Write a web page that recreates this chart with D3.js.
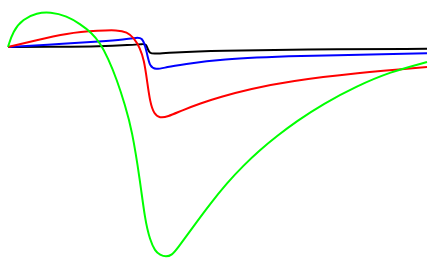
<!DOCTYPE html>
<html lang="en">
<head>
  <meta charset="UTF-8">
  <title>curves</title>
  <script src="https://d3js.org/d3.v7.min.js"></script>
  <style>
    html, body { margin: 0; padding: 0; background: #fff; }
  </style>
</head>
<body>
  <div class="canvas"></div>
  <script>
    // time values and responses per series
    const blackT = [0, 0.52, 0.92, 1.22, 1.35, 1.38, 1.40, 1.42, 1.45, 1.62, 2.12, 2.92, 4.19];
    const blackV = [0, 0.002, 0.005, 0.02, 0.03, 0.03, -0.03, -0.06, -0.07, -0.055, -0.035, -0.025, -0.018];

    const blueT = [0, 0.59, 0.92, 1.17, 1.29, 1.34, 1.37, 1.40, 1.42, 1.47, 1.59, 1.75, 2.12, 2.82, 4.19];
    const blueV = [0, 0.035, 0.055, 0.075, 0.095, 0.09, 0.02, -0.11, -0.19, -0.23, -0.20, -0.175, -0.12, -0.09, -0.063];

    const redT = [0, 0.25, 0.59, 0.92, 1.09, 1.19, 1.26, 1.32, 1.36, 1.39, 1.42, 1.46, 1.52, 1.59, 1.75, 1.92, 2.12, 2.42, 2.82, 3.49, 4.19];
    const redV = [0, 0.06, 0.14, 0.165, 0.17, 0.15, 0.09, -0.01, -0.13, -0.33, -0.55, -0.67, -0.71, -0.70, -0.63, -0.565, -0.50, -0.42, -0.34, -0.26, -0.20];

    const greenT = [0, 0.05, 0.15, 0.29, 0.42, 0.59, 0.72, 0.84, 0.92, 1.00, 1.09, 1.17, 1.24, 1.32, 1.37, 1.42, 1.47, 1.52, 1.58, 1.64, 1.69, 1.85, 2.02, 2.19, 2.35, 2.52, 2.69, 2.89, 3.15, 3.49, 3.82, 4.19];
    const greenV = [0, 0.16, 0.28, 0.34, 0.35, 0.31, 0.23, 0.14, 0.04, -0.11, -0.33, -0.58, -0.83, -1.33, -1.73, -1.93, -2.04, -2.08, -2.10, -2.08, -2.02, -1.80, -1.57, -1.36, -1.19, -1.03, -0.89, -0.74, -0.57, -0.39, -0.25, -0.15];

    const width = 436;
    const height = 270;

    const svg = d3.select('.canvas')
                  .append('svg')
                  .attr('width', width)
                  .attr('height', height);

    const x = d3.scaleLinear().domain([0, 4.19]).range([8, 427]);
    const y = d3.scaleLinear().domain([0.47, -2.23]).range([0, 270]);

    const line = d3.line()
                   .x(d => x(d[0]))
                   .y(d => y(d[1]))
                   .curve(d3.curveBasis);

    const series = [
      { color: '#000000', pts: d3.zip(blackT, blackV) },
      { color: '#0000ff', pts: d3.zip(blueT, blueV) },
      { color: '#ff0000', pts: d3.zip(redT, redV) },
      { color: '#00ff00', pts: d3.zip(greenT, greenV) }
    ];

    svg.selectAll('path')
       .data(series)
       .enter()
       .append('path')
       .attr('fill', 'none')
       .attr('stroke', d => d.color)
       .attr('stroke-width', 2)
       .attr('d', d => line(d.pts));
  </script>
</body>
</html>
